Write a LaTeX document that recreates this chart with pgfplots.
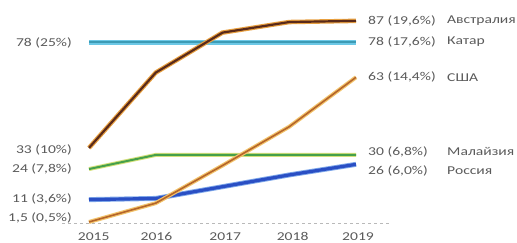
\documentclass[border=0pt]{standalone}
\usepackage{pgfplots}
\pgfplotsset{compat=1.18}
\usepackage{fontspec}
\setmainfont[FakeStretch=1.3]{Carlito}
\definecolor{txt}{HTML}{5A5A5A}
\definecolor{ausCore}{HTML}{5A2A1A}
\definecolor{ausOut}{HTML}{E8A040}
\definecolor{qatOut}{HTML}{6CC8E6}
\definecolor{qatCore}{HTML}{3D9BB5}
\definecolor{usaOut}{HTML}{F2C36B}
\definecolor{usaCore}{HTML}{B5652A}
\definecolor{malOut}{HTML}{D4E07A}
\definecolor{malCore}{HTML}{45A04A}
\definecolor{rusOut}{HTML}{7FA8EA}
\definecolor{rusCore}{HTML}{2A4FC4}
\begin{document}
\begin{tikzpicture}
\path[use as bounding box] (0,0) rectangle (517pt,243pt);
\begin{axis}[
  at={(89pt,17.5pt)}, anchor=south west,
  scale only axis, width=267pt, height=211.7pt,
  xmin=2015, xmax=2019, ymin=0, ymax=90,
  axis lines=none, clip=false,
  xtick=\empty, ytick=\empty,
  font=\fontsize{12}{14}\selectfont,
]
% bottom dashed line
\draw[gray!55, dashed, line width=0.8pt] (axis cs:2014.6,0.8) -- (axis cs:2019.5,0.8);
% year labels
\begin{scope}[every node/.style={text=txt, font=\fontsize{12}{14}\selectfont}]
\node at (axis cs:2015.07,-4.7) {2015};
\node at (axis cs:2016.01,-4.7) {2016};
\node at (axis cs:2017.04,-4.7) {2017};
\node at (axis cs:2018.05,-4.7) {2018};
\node at (axis cs:2019.03,-4.7) {2019};
\end{scope}
% Qatar
\addplot[qatOut, line width=5pt] coordinates {(2015,78)(2016,78)(2017,78)(2018,78)(2019,78)};
\addplot[qatCore, line width=1.5pt] coordinates {(2015,78)(2016,78)(2017,78)(2018,78)(2019,78)};
% Malaysia
\addplot[malOut, line width=4pt] coordinates {(2015,24)(2016,30)(2017,30)(2018,30)(2019,30)};
\addplot[malCore, line width=2pt] coordinates {(2015,24)(2016,30)(2017,30)(2018,30)(2019,30)};
% Russia
\addplot[rusOut, line width=5pt] coordinates {(2015,11)(2016,11.5)(2017,16.5)(2018,21.5)(2019,26)};
\addplot[rusCore, line width=3.2pt] coordinates {(2015,11)(2016,11.5)(2017,16.5)(2018,21.5)(2019,26)};
% USA
\addplot[usaOut, line width=4pt] coordinates {(2015,1.5)(2016,9.5)(2017,25.5)(2018,42)(2019,63)};
\addplot[usaCore, line width=1.6pt] coordinates {(2015,1.5)(2016,9.5)(2017,25.5)(2018,42)(2019,63)};
% Australia
\addplot[ausOut, line width=4.5pt] coordinates {(2015,33)(2016,65)(2017,82)(2018,86.5)(2019,87)};
\addplot[ausCore, line width=2.2pt] coordinates {(2015,33)(2016,65)(2017,82)(2018,86.5)(2019,87)};
% left labels
\begin{scope}[every node/.style={text=txt, anchor=east, inner sep=0pt}]
\node at ([xshift=-17pt]axis cs:2015,77.6) {78 (25\%)};
\node at ([xshift=-17pt]axis cs:2015,32.1) {33 (10\%)};
\node at ([xshift=-17pt]axis cs:2015,24) {24 (7,8\%)};
\node at ([xshift=-17pt]axis cs:2015,11.3) {11 (3,6\%)};
\node at ([xshift=-17pt]axis cs:2015,3.2) {1,5 (0,5\%)};
\end{scope}
% right labels
\begin{scope}[every node/.style={text=txt, anchor=west, inner sep=0pt}]
\node at ([xshift=12pt]axis cs:2019,87) {87 (19,6\%)};
\node at ([xshift=91pt]axis cs:2019,87) {Австралия};
\node at ([xshift=12pt]axis cs:2019,78) {78 (17,6\%)};
\node at ([xshift=91pt]axis cs:2019,78) {Катар};
\node at ([xshift=12pt]axis cs:2019,63) {63 (14,4\%)};
\node at ([xshift=91pt]axis cs:2019,63) {США};
\node at ([xshift=12pt]axis cs:2019,31.3) {30 (6,8\%)};
\node at ([xshift=91pt]axis cs:2019,31.3) {Малайзия};
\node at ([xshift=12pt]axis cs:2019,23.2) {26 (6,0\%)};
\node at ([xshift=91pt]axis cs:2019,23.2) {Россия};
\end{scope}
\end{axis}
\end{tikzpicture}
\end{document}
